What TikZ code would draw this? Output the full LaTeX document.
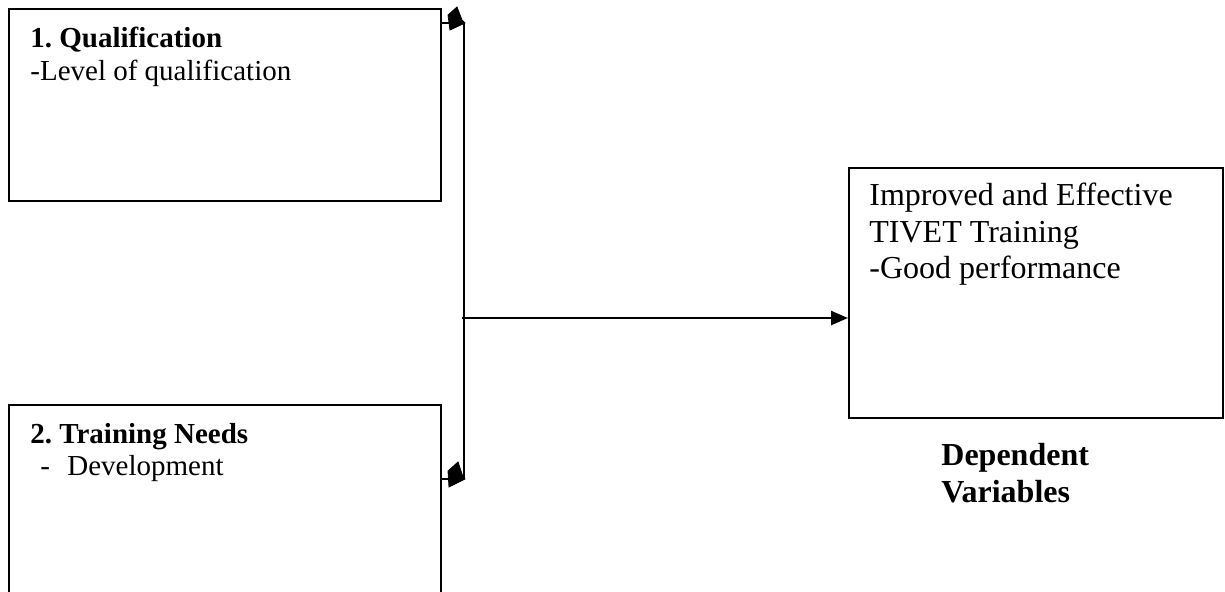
\documentclass[tikz,border=0pt]{standalone}
\usepackage{fontspec}
\setmainfont{Liberation Serif}
\usetikzlibrary{arrows.meta}
\frenchspacing
\tikzset{
  box/.style={draw, line width=1pt, inner sep=0pt},
  smalltxt/.style={anchor=base west, inner sep=0pt, font=\fontsize{14.5}{16.5}\selectfont},
  bigtxt/.style={anchor=base west, inner sep=0pt, font=\fontsize{16}{18}\selectfont},
  conn/.style={line width=1pt},
  head/.style={fill=black, draw=black, line width=0.4pt},
}
\begin{document}
\begin{tikzpicture}[x=0.5pt,y=-0.5pt]
\useasboundingbox (0,0) rectangle (1225,591);
\clip (0,0) rectangle (1225,591);
% boxes
\node[box, minimum width=216pt, minimum height=96pt, anchor=north west] (box1) at (8,8) {};
\node[box, minimum width=216pt, minimum height=120pt, anchor=north west] (box2) at (8,404) {};
\node[box, minimum width=187pt, minimum height=125pt, anchor=north west] (box3) at (848,167) {};
% texts
\node[smalltxt] (t1a) at (30,47) {\textbf{1. Qualification}};
\node[smalltxt] (t1b) at (30,80) {-Level of qualification};
\node[smalltxt] (t2a) at (30,443) {\textbf{2. Training Needs}};
\node[smalltxt] (t2d) at (40,475) {-};
\node[smalltxt] (t2b) at (67,475) {Development};
\node[bigtxt] (t3a) at (869,205) {Improved and Effective};
\node[bigtxt] (t3b) at (869,242) {TIVET Training};
\node[bigtxt] (t3c) at (869,278) {-Good performance};
\node[bigtxt] (dv1) at (941,465) {\textbf{Dependent}};
\node[bigtxt] (dv2) at (941,502) {\textbf{Variables}};
% junction
\coordinate (jt) at (464,22);
\coordinate (jb) at (464,478);
\coordinate (jm) at (462,318);
\coordinate (ht) at (464,23);
\coordinate (hb) at (464,479);
\draw[conn] (jt) -- (jb);
\draw[conn] (box1.east |- ht) -- (ht);
\draw[conn] (box2.east |- hb) -- (hb);
\fill[head] (448,15) -- (457,7) -- (462,20) -- (465,23) -- (450,30) -- cycle;
\fill[head] (448,471) -- (458,462) -- (463,477) -- (465,479) -- (449,487) -- cycle;
\draw[conn, line width=1.2pt, -{Triangle[length=8.5pt,width=7pt]}] (jm) -- (box3.west |- jm);
\end{tikzpicture}
\end{document}
